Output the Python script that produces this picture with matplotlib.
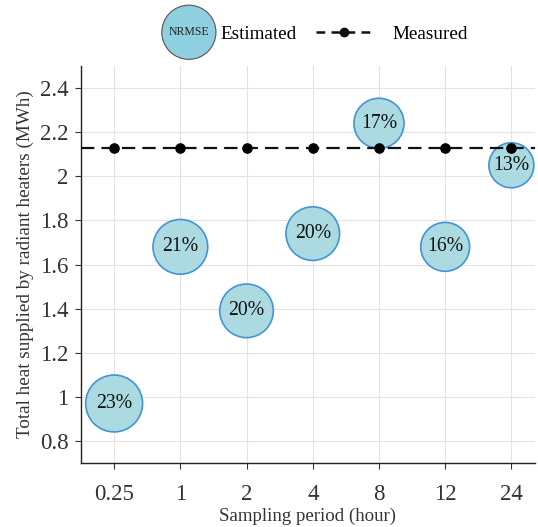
import matplotlib.pyplot as plt
from matplotlib.lines import Line2D
from matplotlib.legend_handler import HandlerBase
from matplotlib.patches import Circle

plt.rcParams['font.family'] = ['Liberation Serif', 'DejaVu Serif']

periods = ['0.25', '1', '2', '4', '8', '12', '24']
estimated = [0.97, 1.68, 1.39, 1.74, 2.24, 1.68, 2.05]
nrmse = [23, 21, 20, 20, 17, 16, 13]
measured = 2.13

fill_col = '#a8d8e0'
edge_col = '#3b8fd6'

# bubble area grows linearly with NRMSE
sizes = [1050 + (v - 13) * 63 for v in nrmse]

fig = plt.figure(figsize=(5.38, 5.27), dpi=100)
ax = fig.add_axes([0.1506, 0.1214, 0.843, 0.7534])

x = list(range(len(periods)))
ax.scatter(x, estimated, s=sizes, facecolor=fill_col, edgecolor=edge_col,
           linewidth=1.2, alpha=0.95, zorder=2)
ax.axhline(measured, color='#111111', lw=1.6, ls=(0, (6, 3.2)), zorder=3)
ax.scatter(x, [measured] * len(x), s=44, color='black', zorder=4)
for xi, yi, v in zip(x, estimated, nrmse):
    ax.text(xi, yi, f'{v}%', ha='center', va='center', fontsize=14.2,
            color='#111111', zorder=5)

ax.set_xlim(-0.5, 6.35)
ax.set_ylim(0.7, 2.5)
ax.set_xticks(x)
ax.set_xticklabels(periods)
ax.set_yticks([0.8, 1.0, 1.2, 1.4, 1.6, 1.8, 2.0, 2.2, 2.4])
ax.set_yticklabels(['0.8', '1', '1.2', '1.4', '1.6', '1.8', '2', '2.2', '2.4'])
ax.tick_params(labelsize=16.5, colors='#333333', length=4, width=0.8,
               pad=5)
ax.tick_params(axis='x', pad=11)
ax.grid(True, color='#e3e3e3', lw=0.8)
ax.set_axisbelow(True)
for s in ['top', 'right']:
    ax.spines[s].set_visible(False)
for s in ['left', 'bottom']:
    ax.spines[s].set_color('#222222')
    ax.spines[s].set_linewidth(1.0)

ax.set_xlabel('Sampling period (hour)', fontsize=13.6, color='#333333',
              labelpad=2)
ax.set_ylabel('Total heat supplied by radiant heaters (MWh)', fontsize=13.8,
              color='#333333', labelpad=4)


class BubbleHandler(HandlerBase):
    def create_artists(self, legend, orig_handle, xdescent, ydescent,
                       width, height, fontsize, trans):
        cx, cy = width / 2 - xdescent + 12, height / 2 - ydescent
        c = Circle((cx, cy), 19.5, facecolor='#8ecfe0', edgecolor='#555555',
                   lw=0.8, transform=trans)
        t = plt.Text(cx, cy, 'NRMSE', ha='center', va='center', fontsize=8.5,
                     color='#222222', transform=trans)
        return [c, t]


bubble = Line2D([], [])
meas = Line2D([], [], color='#111111', lw=1.8, ls=(0, (3.5, 2.5)),
              marker='o', markersize=6)
fig.legend([bubble, meas], ['Estimated', 'Measured'],
           handler_map={bubble: BubbleHandler()},
           loc='center', bbox_to_anchor=(0.568, 0.935), ncol=2, frameon=False,
           fontsize=13.8, handlelength=3.0, handletextpad=1.0,
           columnspacing=1.0)

fig.savefig('out.png', dpi=100)
